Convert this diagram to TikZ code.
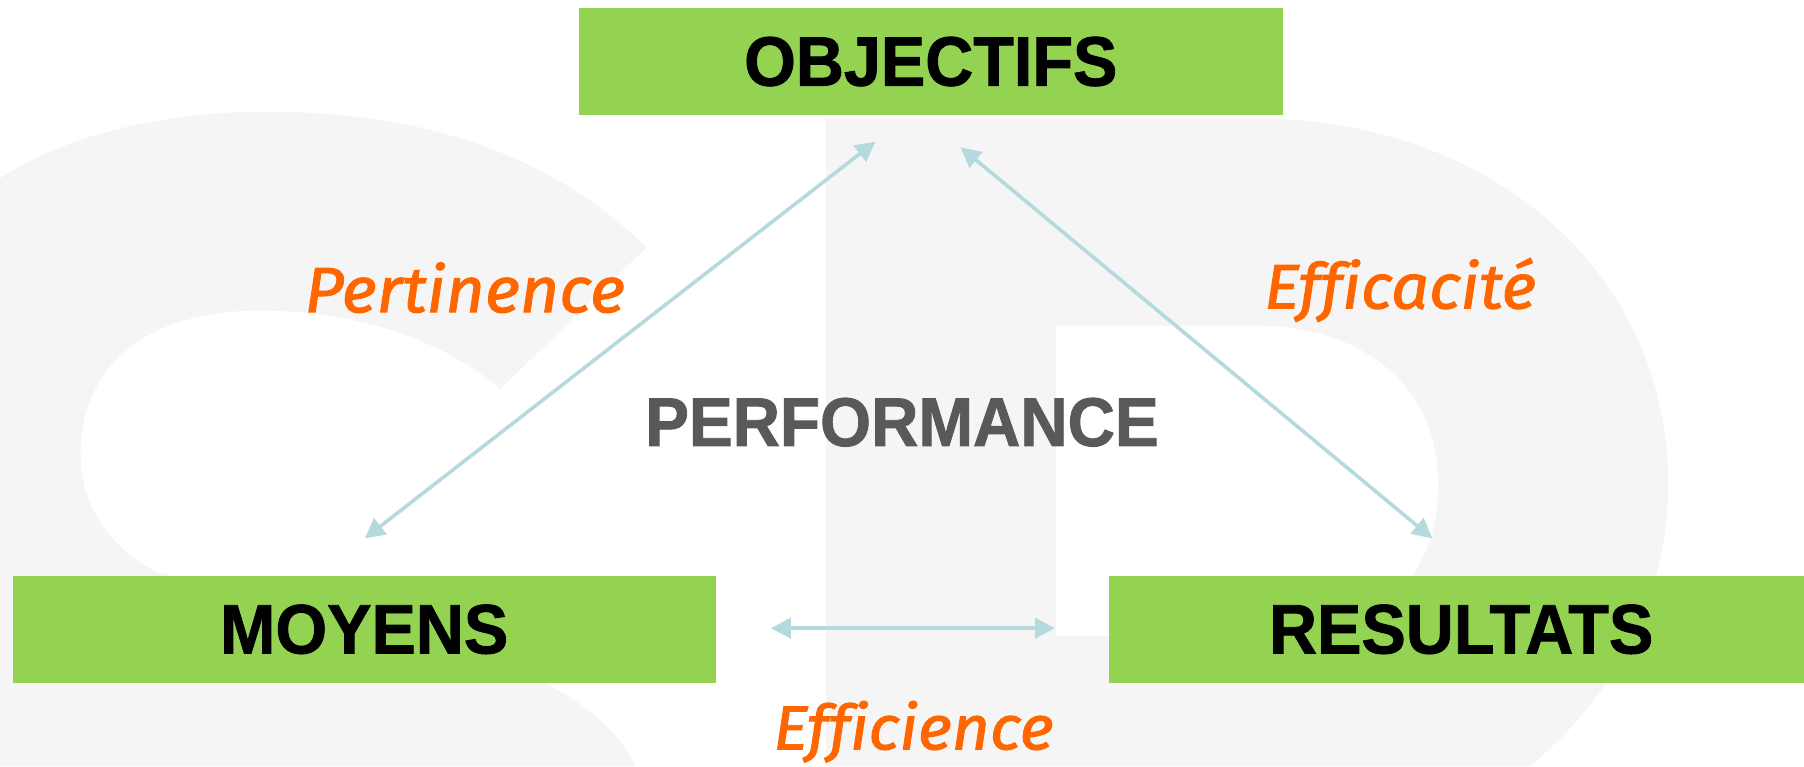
\documentclass[tikz,border=0pt]{standalone}
\usepackage{fontspec}
\setmainfont[BoldFeatures={FakeBold=1.2,FakeStretch=0.95}]{Liberation Sans}
\newfontfamily\handfont[Ligatures=NoCommon,ItalicFeatures={FakeStretch=1.06,FakeBold=1.6}]{Fira Sans}
\usetikzlibrary{arrows.meta}
\definecolor{boxgreen}{HTML}{94D352}
\definecolor{ghost}{HTML}{F5F5F5}
\definecolor{linkblue}{HTML}{B5DADE}
\definecolor{handorange}{HTML}{FF6600}
\definecolor{perfgray}{HTML}{595959}
\tikzset{
  boxnode/.style={fill=boxgreen,inner sep=0pt,minimum width=#1*1.1505pt,minimum height=107pt,font=\fontsize{70}{74}\selectfont\bfseries,text=black},
  linkarrow/.style={draw=linkblue,line width=3.6pt,{Triangle[length=20pt,width=20pt]}-{Triangle[length=20pt,width=20pt]}},
  handtext/.style={font=\handfont\itshape\fontsize{#1}{70}\selectfont,text=handorange,inner sep=0pt},
}
\begin{document}
\begin{tikzpicture}[x=1.1505pt,y=-1.1505pt]
\useasboundingbox (0,0) rectangle (1568,665.8);
\begin{scope}
\clip (0,0) rectangle (1568,665.8);
\fill[ghost] (0,155) .. controls (60,115) and (150,97) .. (230,97)
  .. controls (370,97) and (480,135) .. (562,215) -- (435,338)
  .. controls (380,292) and (305,270) .. (225,270)
  .. controls (125,270) and (70,320) .. (70,395)
  .. controls (70,440) and (95,475) .. (135,497)
  -- (400,560) .. controls (480,590) and (535,625) .. (552,666) -- (0,666) -- cycle;
\fill[ghost,even odd rule] (718,103) -- (1090,103)
  .. controls (1300,103) and (1450,240) .. (1450,420)
  .. controls (1450,500) and (1420,590) .. (1330,666) -- (718,666) -- cycle
  (918,283) -- (1090,283) .. controls (1190,283) and (1250,340) .. (1250,420)
  .. controls (1250,460) and (1240,480) .. (1228,500) -- (1228,553) -- (918,553) -- cycle;
\end{scope}
\node[boxnode=612] (obj) at (809,53.5) {OBJECTIFS};
\node[boxnode=611] (moy) at (316.5,547) {MOYENS};
\node[boxnode=604] (res) at (1266,547) {};
\node[font=\fontsize{70}{74}\selectfont\bfseries,text=black,inner sep=0pt] (restxt) at (1270,547) {RESULTATS};
\node[font=\fontsize{69}{74}\selectfont\bfseries,text=perfgray,inner sep=0pt] (perf) at (784,367) {PERFORMANCE};
\node[handtext=64] (pert) at (404,250) {Pertinence};
\node[handtext=63] (effa) at (1217,252) {Efficacité};
\node[handtext=62] (effe) at (794,636) {Efficience};
\coordinate (objl) at (761,123);
\coordinate (objr) at (835,128);
\coordinate (moyt) at (317,468);
\coordinate (rest) at (1245,468);
\coordinate (moyr) at (670,546);
\coordinate (resl) at (917,546);
\draw[linkarrow] (moyt) -- (objl);
\draw[linkarrow] (objr) -- (rest);
\draw[linkarrow] (moyr) -- (resl);
\end{tikzpicture}
\end{document}
